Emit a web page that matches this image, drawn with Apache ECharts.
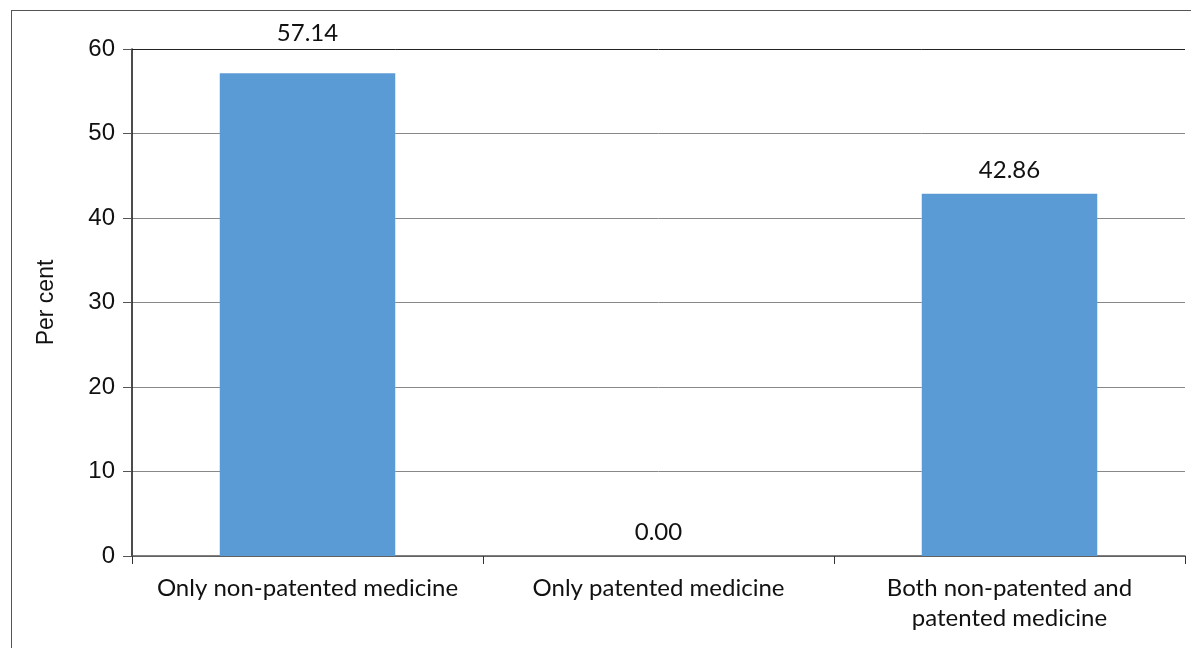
<!DOCTYPE html>
<html><head><meta charset="utf-8">
<script src="https://cdn.jsdelivr.net/npm/echarts@6/dist/echarts.min.js"></script>
<style>
html,body{margin:0;padding:0;background:#fff;overflow:hidden}
#frame{position:absolute;left:11px;top:10px;width:1300px;height:800px;border:1px solid #555;box-sizing:border-box}
#c{position:absolute;left:0;top:0;width:1191px;height:648px}
</style></head>
<body><div id="frame"></div><div id="c"></div>
<script>
const categories = ['Only non-patented medicine', 'Only patented medicine', 'Both non-patented and\npatented medicine'];
const values = [57.14, 0.00, 42.86];
const yTicks = [0, 10, 20, 30, 40, 50, 60];
const labelOffsets = [28, 12, 12];

const chart = echarts.init(document.getElementById('c'));
chart.setOption({
  animation: false,
  textStyle: { fontFamily: 'Lato' },
  grid: { left: 132, right: 6, top: 49, bottom: 92, containLabel: false },
  xAxis: {
    type: 'category', data: categories,
    axisLine: { lineStyle: { color: '#555', width: 1.5 } },
    axisTick: { show: true, length: 8, lineStyle: { color: '#333' }, alignWithLabel: false },
    axisLabel: { color: '#111', fontSize: 24, fontFamily: 'Lato', margin: 18, lineHeight: 29.5, interval: 0 }
  },
  yAxis: {
    type: 'value', min: yTicks[0], max: yTicks[yTicks.length - 1], interval: 10,
    name: 'Per cent', nameLocation: 'middle', nameGap: 74,
    nameTextStyle: { color: '#111', fontSize: 23, fontFamily: 'Liberation Sans' },
    axisLine: { show: true, lineStyle: { color: '#111', width: 1.5 } },
    axisTick: { show: true, length: 9, lineStyle: { color: '#555' } },
    axisLabel: { color: '#111', fontSize: 24, fontFamily: 'Liberation Sans', margin: 17 },
    splitLine: { show: true, lineStyle: { color: ['#888', '#888', '#888', '#888', '#888', '#888', '#222'], width: 1 } }
  },
  series: [{
    type: 'bar',
    data: values.map((v, i) => ({ value: v, label: { distance: labelOffsets[i] } })),
    barWidth: '50%',
    itemStyle: { color: '#5B9BD5' },
    label: { show: true, position: 'top', color: '#111', fontSize: 24, lineHeight: 24, fontFamily: 'Lato',
      formatter: p => p.value.toFixed(2) }
  }]
});
</script></body></html>
